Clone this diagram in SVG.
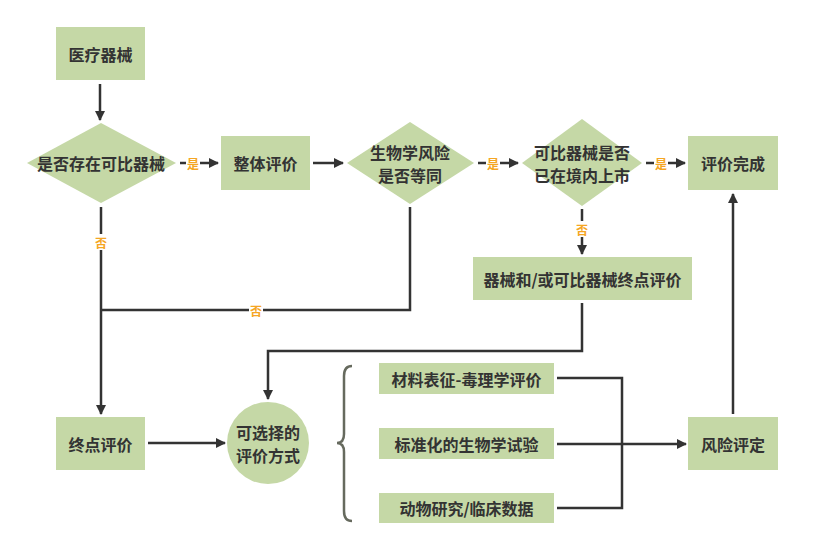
<svg xmlns="http://www.w3.org/2000/svg" width="827" height="541" viewBox="0 0 827 541">
<defs>
<style>
.n{fill:#c5d8a6;}
.t{font-family:"Noto Sans CJK SC","Noto Sans",sans-serif;font-size:16px;font-weight:bold;fill:#333;text-anchor:middle;dominant-baseline:central;}
.c{fill:none;stroke:#333;stroke-width:2.5;}
.l{font-family:"Noto Sans CJK SC",sans-serif;font-size:12px;font-weight:bold;fill:#f5a623;text-anchor:middle;dominant-baseline:central;}
.lb{fill:#fff;}
.br{fill:none;stroke:#666a5e;stroke-width:2.5;}
</style>
<marker id="a" markerWidth="10" markerHeight="10" refX="9" refY="5" orient="auto" markerUnits="userSpaceOnUse">
<path d="M0,0 L10,5 L0,10 z" fill="#333"/>
</marker>
</defs>
<rect width="827" height="541" fill="#fff"/>
<g id="connectors">
<path class="c" d="M100,84 V120" marker-end="url(#a)"/>
<path class="c" d="M180,163 H218" marker-end="url(#a)"/>
<path class="c" d="M313,163 H343" marker-end="url(#a)"/>
<path class="c" d="M478,163 H518" marker-end="url(#a)"/>
<path class="c" d="M646,163 H685" marker-end="url(#a)"/>
<path class="c" d="M582,209 V254" marker-end="url(#a)"/>
<path class="c" d="M101,207 V414" marker-end="url(#a)"/>
<path class="c" d="M410,207 V310 H101"/>
<path class="c" d="M582,303 V351 H268 V399" marker-end="url(#a)"/>
<path class="c" d="M148,443 H225" marker-end="url(#a)"/>
<path class="c" d="M557,378 H622 V508 H557"/>
<path class="c" d="M557,444 H686" marker-end="url(#a)"/>
<path class="c" d="M733,414 V194" marker-end="url(#a)"/>
<rect class="lb" x="186" y="155" width="14" height="16"/><text class="l" x="193" y="163">是</text>
<rect class="lb" x="486" y="155" width="14" height="16"/><text class="l" x="493" y="163">是</text>
<rect class="lb" x="654" y="155" width="14" height="16"/><text class="l" x="661" y="163">是</text>
<rect class="lb" x="575" y="221" width="14" height="16"/><text class="l" x="582" y="229">否</text>
<rect class="lb" x="94" y="234" width="14" height="16"/><text class="l" x="101" y="242">否</text>
<rect class="lb" x="249" y="302" width="14" height="16"/><text class="l" x="256" y="310">否</text>
</g>
<g id="n1"><rect class="n" x="56" y="27" width="89" height="53"/><text class="t" x="100.5" y="53.5">医疗器械</text></g>
<g id="n2"><polygon class="n" points="101,123 176,163 101,203 27,163"/><text class="t" x="101" y="163">是否存在可比器械</text></g>
<g id="n3"><rect class="n" x="221" y="136" width="89" height="54"/><text class="t" x="265.5" y="163">整体评价</text></g>
<g id="n4"><polygon class="n" points="410,122 474,163 410,204 347,163"/><text class="t" x="410" y="152">生物学风险</text><text class="t" x="410" y="175">是否等同</text></g>
<g id="n5"><polygon class="n" points="582,119 642,163 582,206 522,163"/><text class="t" x="582" y="152">可比器械是否</text><text class="t" x="582" y="175">已在境内上市</text></g>
<g id="n6"><rect class="n" x="688" y="136" width="90" height="54"/><text class="t" x="733" y="163">评价完成</text></g>
<g id="n7"><rect class="n" x="473" y="257" width="219" height="43"/><text class="t" x="582.5" y="279">器械和/或可比器械终点评价</text></g>
<g id="n8"><rect class="n" x="56" y="417" width="89" height="53"/><text class="t" x="100.5" y="443.5">终点评价</text></g>
<g id="n9"><circle class="n" cx="268" cy="443" r="41"/><text class="t" x="268" y="432">可选择的</text><text class="t" x="268" y="455">评价方式</text></g>
<g id="brace"><path class="br" d="M352,366 Q344,366 344,376 V434 Q344,443 337,443 Q344,443 344,452 V511 Q344,521 352,521"/></g>
<g id="n10"><rect class="n" x="379" y="363" width="175" height="31"/><text class="t" x="466.5" y="378.5">材料表征-毒理学评价</text></g>
<g id="n11"><rect class="n" x="379" y="428" width="175" height="31"/><text class="t" x="466.5" y="443.5">标准化的生物学试验</text></g>
<g id="n12"><rect class="n" x="379" y="493" width="175" height="30"/><text class="t" x="466.5" y="508">动物研究/临床数据</text></g>
<g id="n13"><rect class="n" x="688" y="417" width="90" height="53"/><text class="t" x="733" y="443.5">风险评定</text></g>
</svg>
